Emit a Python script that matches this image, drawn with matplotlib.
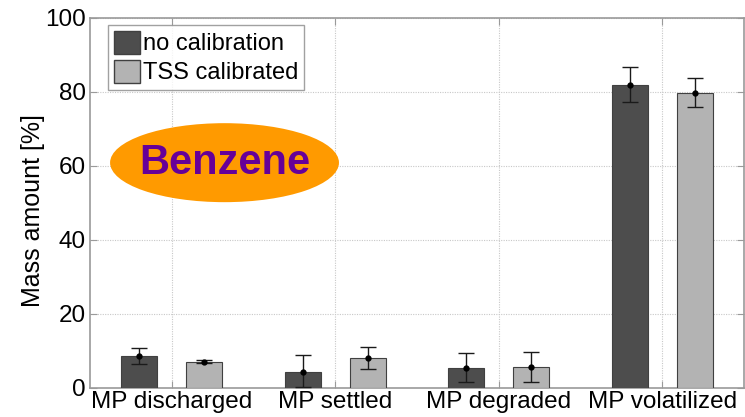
import matplotlib
matplotlib.use("Agg")
import matplotlib.pyplot as plt
from matplotlib.patches import Ellipse
import numpy as np

categories = ["MP discharged", "MP settled", "MP degraded", "MP volatilized"]
series_names = ["no calibration", "TSS calibrated"]
no_cal = [8.7, 4.4, 5.4, 82.0]
no_cal_low = [6.5, 0.3, 1.6, 77.3]
no_cal_high = [10.9, 9.0, 9.5, 86.8]
tss = [7.1, 8.0, 5.6, 79.7]
tss_low = [6.8, 5.1, 1.7, 75.9]
tss_high = [7.6, 11.2, 9.6, 83.7]
yticks = [0, 20, 40, 60, 80, 100]

plt.rcParams['font.family'] = ['Liberation Sans', 'DejaVu Sans']

fig = plt.figure(figsize=(7.45, 4.17), dpi=100)
ax = fig.add_axes([90/745, 29/417, 654/745, 370/417])

x = np.arange(1, len(categories) + 1)
w = 0.22
off = 0.2
dark = '#4d4d4d'
light = '#b3b3b3'

for xs, vals, lo, hi, col in [(x - off, no_cal, no_cal_low, no_cal_high, dark),
                              (x + off, tss, tss_low, tss_high, light)]:
    ax.bar(xs, vals, width=w, color=col, edgecolor='#404040', linewidth=0.8, zorder=3)
    vals = np.array(vals); lo = np.array(lo); hi = np.array(hi)
    ax.errorbar(xs, vals, yerr=[vals - lo, hi - vals], fmt='o', color='black',
                ecolor='#1a1a1a', markersize=3.5, capsize=6, elinewidth=1.0,
                capthick=1.0, zorder=4)

ax.set_xlim(0.5, 4.5)
ax.set_ylim(0, 100)
ax.set_xticks(x)
ax.set_xticklabels(categories, fontsize=17.5)
ax.set_yticks(yticks)
ax.set_yticklabels([str(t) for t in yticks], fontsize=17.5)
ax.set_ylabel("Mass amount [%]", fontsize=18)
ax.yaxis.set_label_coords(-0.069, 0.48)

ax.grid(True, linestyle=(0, (1, 1.2)), color='#c8c8c8', linewidth=0.8, zorder=0)
ax.set_axisbelow(True)
for s in ax.spines.values():
    s.set_color('#9a9a9a')
    s.set_linewidth(1.2)
ax.tick_params(direction='in', length=5, color='#9a9a9a', top=True, right=True,
               pad=3)
ax.tick_params(axis='x', pad=2)

leg = ax.legend([plt.Rectangle((0, 0), 1, 1, fc=dark, ec='#404040'),
                 plt.Rectangle((0, 0), 1, 1, fc=light, ec='#404040')],
                series_names, loc='upper left', bbox_to_anchor=(0.027, 0.981),
                fontsize=17, frameon=True, fancybox=False, handlelength=1.1,
                handleheight=1.1, handletextpad=0.15, borderpad=0.25,
                labelspacing=0.2, borderaxespad=0)
leg.get_frame().set_edgecolor('#8a8a8a')
leg.get_frame().set_linewidth(1.0)

ell = Ellipse((0.2057, 0.609), 0.350, 0.2135, transform=ax.transAxes,
              facecolor='#ff9a00', edgecolor='none', zorder=5)
ax.add_patch(ell)
ax.text(0.2057, 0.609, "Benzene", transform=ax.transAxes, ha='center', va='center',
        fontsize=30, fontweight='bold', color='#660099', zorder=6)

fig.savefig("out.png", dpi=100)
